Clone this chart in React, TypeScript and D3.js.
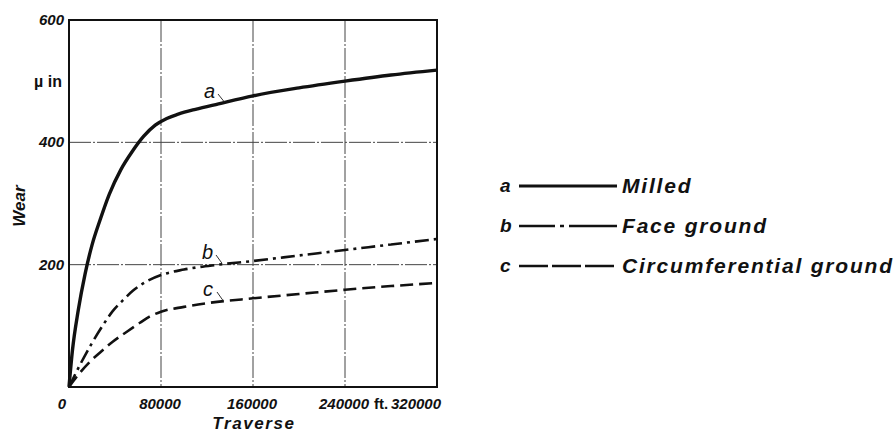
import React, { useEffect, useRef } from "react";
import * as d3 from "d3";

// traverse (ft) vs wear (µin)
const milled: [number, number][] = [
  [0, 0], [3000, 60], [8000, 125], [14000, 185], [20000, 232], [27000, 273],
  [35000, 315], [45000, 355], [55000, 385], [65000, 410], [75000, 428],
  [85000, 439], [95000, 446], [110000, 454], [130000, 463], [160000, 476],
  [200000, 489], [240000, 500], [280000, 510], [320000, 518],
];
const faceGround: [number, number][] = [
  [0, 0], [9500, 36], [20000, 72], [29500, 101], [38000, 124], [47000, 142],
  [56000, 158], [66000, 171], [80000, 183], [100000, 192], [130000, 200],
  [160000, 206], [200000, 215], [240000, 224], [280000, 233], [320000, 242],
];
const circGround: [number, number][] = [
  [0, 0], [8000, 20], [18000, 41], [28000, 58], [38000, 74], [50000, 90],
  [61700, 105], [70000, 115], [80000, 123], [100000, 131], [120000, 137],
  [160000, 145], [200000, 152], [240000, 159], [280000, 165], [320000, 170],
];

const xTicks = [0, 80000, 160000, 240000, 320000];
const yTicks = [200, 400, 600];
const xGrid = [80000, 160000, 240000];
const yGrid = [200, 400];

const seriesKeys = ["a", "b", "c"];
const seriesNames = ["Milled", "Face ground", "Circumferential ground"];

const font = "'Liberation Sans', 'DejaVu Sans', sans-serif";

const App = () => {
  const svgRef = useRef<SVGSVGElement | null>(null);

  useEffect(() => {
    if (!svgRef.current) return;
    const svg = d3.select(svgRef.current);
    svg.selectAll("*").remove();

    const left = 69, right = 437, top = 20, bottom = 387;
    const x = d3.scaleLinear().domain([0, 320000]).range([left, right]);
    const y = d3.scaleLinear().domain([0, 600]).range([bottom, top]);

    // grid
    svg.append("g")
      .selectAll("line")
      .data(xGrid)
      .enter()
      .append("line")
      .attr("x1", d => x(d)).attr("x2", d => x(d))
      .attr("y1", top).attr("y2", bottom)
      .attr("stroke", "#444")
      .attr("stroke-width", 1)
      .attr("stroke-dasharray", "22 2 2 2");
    svg.append("g")
      .selectAll("line")
      .data(yGrid)
      .enter()
      .append("line")
      .attr("x1", left).attr("x2", right)
      .attr("y1", d => y(d)).attr("y2", d => y(d))
      .attr("stroke", "#444")
      .attr("stroke-width", 1)
      .attr("stroke-dasharray", "22 2 2 2");

    // frame
    svg.append("rect")
      .attr("x", left).attr("y", top)
      .attr("width", right - left).attr("height", bottom - top)
      .attr("fill", "none")
      .attr("stroke", "#111")
      .attr("stroke-width", 2);

    const line = d3.line<[number, number]>()
      .x(d => x(d[0]))
      .y(d => y(d[1]))
      .curve(d3.curveMonotoneX);

    const styles = [
      { data: milled, width: 3.4, dash: null },
      { data: faceGround, width: 2.6, dash: "14 5 3 5" },
      { data: circGround, width: 2.6, dash: "13 6" },
    ];
    styles.forEach(s => {
      svg.append("path")
        .attr("d", line(s.data))
        .attr("fill", "none")
        .attr("stroke", "#111")
        .attr("stroke-width", s.width)
        .attr("stroke-dasharray", s.dash);
    });

    // curve labels with small leaders to the curves
    const curveLabels = [
      { k: "a", lx: 204, ly: 98 },
      { k: "b", lx: 202, ly: 259 },
      { k: "c", lx: 203, ly: 296 },
    ];
    curveLabels.forEach((l, i) => {
      svg.append("text")
        .attr("x", l.lx)
        .attr("y", l.ly)
        .attr("font-family", font)
        .attr("font-style", "italic")
        .attr("font-size", 20)
        .attr("fill", "#111")
        .text(l.k);
      const src = styles[i].data;
      const interp = d3.scaleLinear().domain(src.map(d => d[0])).range(src.map(d => d[1]));
      const ex = l.lx + 20;
      svg.append("path")
        .attr("d", `M${l.lx + 14},${l.ly - 4} L${ex},${y(interp(x.invert(ex))) - 1}`)
        .attr("stroke", "#333")
        .attr("stroke-width", 1)
        .attr("fill", "none");
    });

    // y ticks
    svg.append("g")
      .selectAll("text")
      .data(yTicks)
      .enter()
      .append("text")
      .attr("x", left - 5)
      .attr("y", d => y(d) + 5)
      .attr("text-anchor", "end")
      .attr("font-family", font)
      .attr("font-style", "italic")
      .attr("font-weight", "bold")
      .attr("font-size", 15)
      .attr("fill", "#111")
      .text(d => d);

    // x ticks
    svg.append("g")
      .selectAll("text")
      .data(xTicks)
      .enter()
      .append("text")
      .attr("x", (d, i) => (i === 0 ? x(d) - 7 : i === 4 ? x(d) - 21 : x(d) - 1))
      .attr("y", 409)
      .attr("text-anchor", "middle")
      .attr("font-family", font)
      .attr("font-style", "italic")
      .attr("font-weight", "bold")
      .attr("font-size", 15)
      .attr("fill", "#111")
      .text(d => d);

    svg.append("text")
      .attr("x", x(240000) + 29)
      .attr("y", 409)
      .attr("font-family", font)
      .attr("font-weight", "bold")
      .attr("font-size", 15)
      .attr("fill", "#111")
      .text("ft.");

    svg.append("text")
      .attr("x", 254)
      .attr("y", 429)
      .attr("text-anchor", "middle")
      .attr("font-family", font)
      .attr("font-style", "italic")
      .attr("font-weight", "bold")
      .attr("font-size", 17)
      .attr("letter-spacing", 1.6)
      .attr("fill", "#111")
      .text("Traverse");

    svg.append("text")
      .attr("transform", "translate(25,206) rotate(-90)")
      .attr("text-anchor", "middle")
      .attr("font-family", font)
      .attr("font-style", "italic")
      .attr("font-weight", "bold")
      .attr("font-size", 17)
      .attr("fill", "#111")
      .text("Wear");

    svg.append("text")
      .attr("x", 62)
      .attr("y", 87)
      .attr("text-anchor", "end")
      .attr("font-family", font)
      .attr("font-weight", "bold")
      .attr("font-size", 16)
      .attr("fill", "#111")
      .text("µ in");

    // legend
    const legendY = d3.scalePoint<string>().domain(seriesKeys).range([186, 266]);
    const lg = svg.append("g");
    seriesKeys.forEach((k, i) => {
      const yy = legendY(k) as number;
      lg.append("text")
        .attr("x", 500)
        .attr("y", yy + 6)
        .attr("font-family", font)
        .attr("font-style", "italic")
        .attr("font-weight", "bold")
        .attr("font-size", 19)
        .attr("fill", "#111")
        .text(k);
      lg.append("line")
        .attr("x1", 519).attr("x2", 617)
        .attr("y1", yy).attr("y2", yy)
        .attr("stroke", "#111")
        .attr("stroke-width", i === 0 ? 3 : 2.6)
        .attr("stroke-dasharray", i === 0 ? null : i === 1 ? "36 5 4 5 48" : "29 4");
      lg.append("text")
        .attr("x", 622)
        .attr("y", yy + 7)
        .attr("font-family", font)
        .attr("font-style", "italic")
        .attr("font-weight", "bold")
        .attr("font-size", 21)
        .attr("letter-spacing", 1.8)
        .attr("fill", "#111")
        .text(seriesNames[i]);
    });
  }, []);

  return (
    <svg
      ref={svgRef}
      width={896}
      height={432}
      style={{ position: "absolute", left: 0, top: 0, background: "#fff" }}
    />
  );
};

export default App;
